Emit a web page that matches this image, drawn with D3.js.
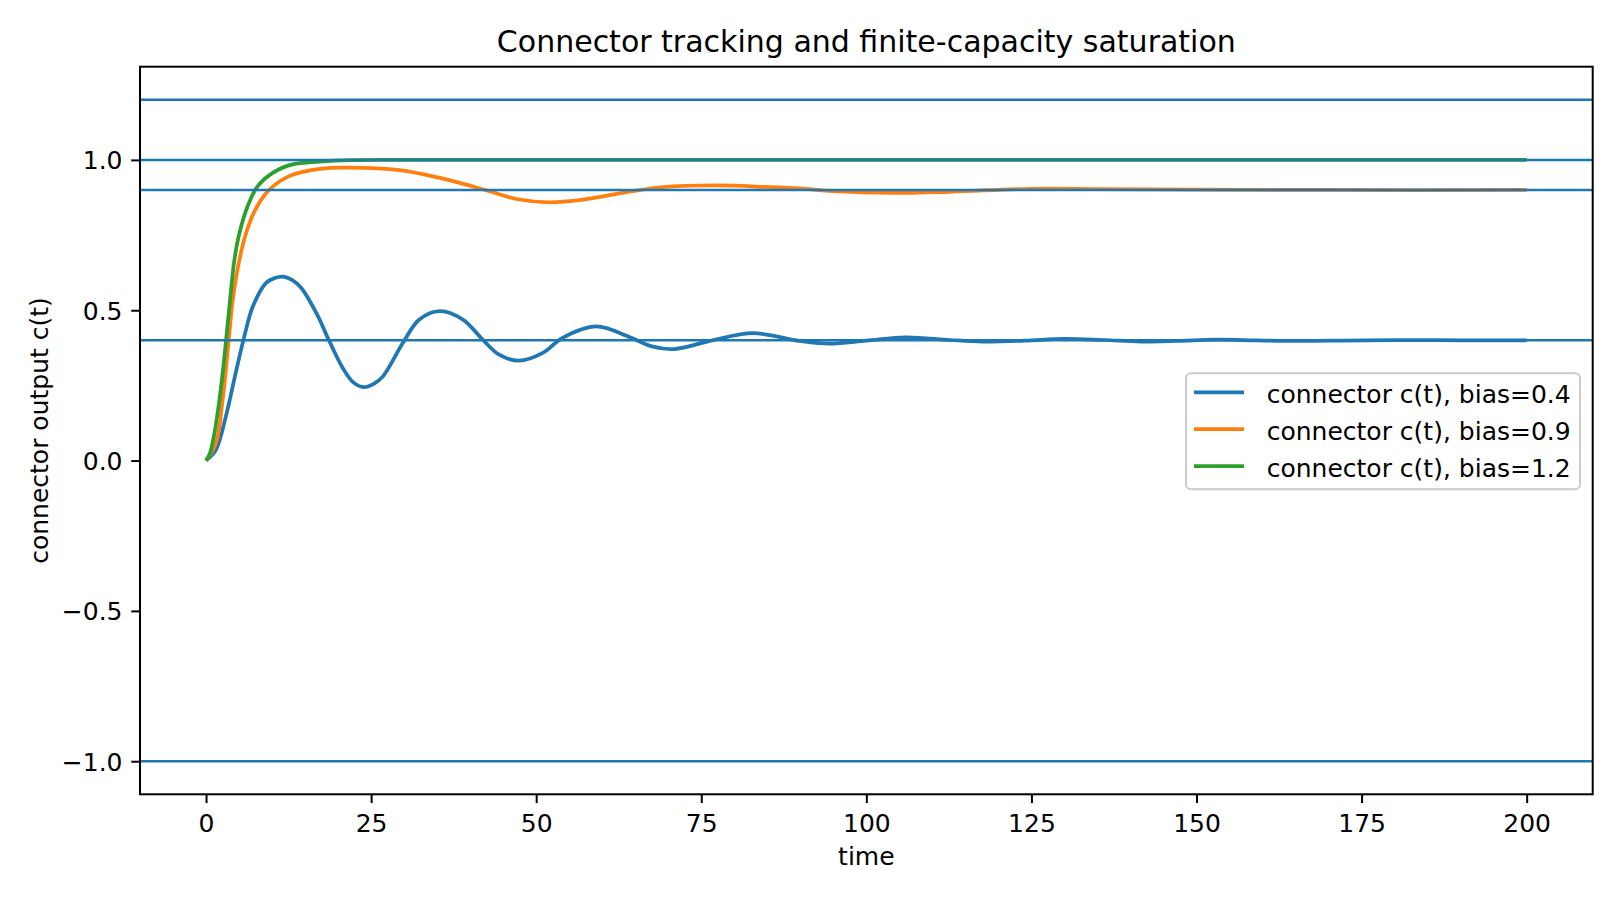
<!DOCTYPE html>
<html lang="en">

<head>
    <meta charset="UTF-8">
    <title>Connector tracking</title>
    <style>
        html, body {
            margin: 0;
            padding: 0;
            background: #fff;
        }

        text {
            font-family: "DejaVu Sans", sans-serif;
            fill: #000;
        }
    </style>
</head>

<body>
    <div id="wrapper"></div>

    <script src="https://d3js.org/d3.v7.min.js"></script>
    <script>
        // data
        const seriesLabels = ['connector c(t), bias=0.4', 'connector c(t), bias=0.9', 'connector c(t), bias=1.2'];
        const seriesColors = ['#1f77b4', '#ff7f0e', '#2ca02c'];

        const tBias04 = [0, 1.5, 3.0, 4.6, 5.8, 7.1, 9.1, 10.4, 11.7, 13.0, 14.4, 16.7, 18.7, 20.7, 22.3, 23.9, 25.4, 26.8, 29.8, 32.3, 35.4, 38.9, 41.9, 44.4, 47.4, 51.0, 54.0, 59.1, 64.1, 67.5, 70.9, 76.7, 82.8, 89.9, 94.4, 100, 106, 112.6, 117.6, 124, 130, 136, 141.6, 147, 153, 159, 165, 172, 180, 190, 200];
        const yBias04 = [0, 0.036, 0.147, 0.302, 0.413, 0.513, 0.591, 0.607, 0.612, 0.601, 0.575, 0.491, 0.396, 0.308, 0.260, 0.244, 0.255, 0.280, 0.391, 0.469, 0.497, 0.469, 0.402, 0.352, 0.332, 0.358, 0.408, 0.446, 0.411, 0.380, 0.371, 0.400, 0.424, 0.398, 0.389, 0.399, 0.410, 0.401, 0.396, 0.399, 0.405, 0.401, 0.396, 0.398, 0.402, 0.400, 0.398, 0.399, 0.401, 0.400, 0.400];

        const tBias09 = [0, 1.5, 2.5, 3.3, 4.05, 5.06, 6.07, 7.6, 9.6, 12.6, 17.2, 21.7, 29.3, 35.4, 42.9, 47.0, 52.0, 57.1, 64.6, 69.7, 77.3, 84.8, 89.9, 94.9, 104, 112.6, 125.2, 135.3, 150.5, 170, 200];
        const yBias09 = [0, 0.058, 0.200, 0.369, 0.535, 0.668, 0.757, 0.840, 0.901, 0.946, 0.970, 0.974, 0.966, 0.940, 0.896, 0.870, 0.859, 0.868, 0.896, 0.910, 0.915, 0.910, 0.905, 0.896, 0.890, 0.894, 0.904, 0.903, 0.901, 0.900, 0.900];

        const tBias12 = [0, 0.6, 1.27, 2.03, 2.79, 3.54, 4.3, 5.06, 6.3, 7.8, 10.1, 13.1, 17.2, 22, 30, 200];
        const yBias12 = [0, 0.025, 0.091, 0.202, 0.346, 0.513, 0.668, 0.757, 0.846, 0.912, 0.957, 0.985, 0.994, 0.999, 1.0, 1.0];

        // horizontal reference lines
        const hLevels = [1.2, 1.0, 0.9, 0.4, -1.0];

        const xTicks = [0, 25, 50, 75, 100, 125, 150, 175, 200];
        const yTicks = [-1.0, -0.5, 0.0, 0.5, 1.0];

        let width = 1620,
            height = 900;
        const plot = { left: 140, right: 1592.7, top: 66.7, bottom: 794.3 };

        const svg = d3.select('#wrapper').append('svg')
            .attr('width', width)
            .attr('height', height);

        const xScale = d3.scaleLinear().domain([-10, 210]).range([plot.left, plot.right]);
        const yScale = d3.scaleLinear().domain([-1.11, 1.31]).range([plot.bottom, plot.top]);

        svg.append('clipPath').attr('id', 'clip')
            .append('rect')
            .attr('x', plot.left).attr('y', plot.top)
            .attr('width', plot.right - plot.left).attr('height', plot.bottom - plot.top);

        // curves
        const series = [
            tBias04.map((t, i) => ({ t: t, v: yBias04[i] })),
            tBias09.map((t, i) => ({ t: t, v: yBias09[i] })),
            tBias12.map((t, i) => ({ t: t, v: yBias12[i] }))
        ];

        const line = d3.line()
            .x(d => xScale(d.t))
            .y(d => yScale(d.v))
            .curve(d3.curveCatmullRom.alpha(0.5));

        const g = svg.append('g').attr('clip-path', 'url(#clip)');
        series.forEach((s, i) => {
            g.append('path')
                .attr('d', line(s))
                .attr('fill', 'none')
                .attr('stroke', seriesColors[i])
                .attr('stroke-width', 3.75)
                .attr('stroke-linejoin', 'round')
                .attr('stroke-linecap', 'butt');
        });

        // axhlines drawn over the curves
        g.selectAll('.hline')
            .data(hLevels)
            .join('line')
            .attr('class', 'hline')
            .attr('x1', plot.left).attr('x2', plot.right)
            .attr('y1', d => yScale(d)).attr('y2', d => yScale(d))
            .attr('stroke', '#1f77b4')
            .attr('stroke-width', 2.5);

        // axes
        const xAxis = d3.axisBottom(xScale)
            .tickValues(xTicks)
            .tickSizeInner(8.75)
            .tickSizeOuter(0)
            .tickPadding(8.75)
            .tickFormat(d3.format('d'));

        const xAxisLine = svg.append('g')
            .attr('transform', `translate(0, ${plot.bottom})`)
            .call(xAxis);
        xAxisLine.select('.domain').remove();
        xAxisLine.selectAll('.tick line').attr('stroke', '#000').attr('stroke-width', 2);
        xAxisLine.selectAll('.tick text')
            .attr('font-size', 25)
            .attr('font-family', 'DejaVu Sans')
            .attr('fill', '#000')
            .attr('dy', null)
            .attr('y', 832.3 - plot.bottom);

        const yAxis = d3.axisLeft(yScale)
            .tickValues(yTicks)
            .tickSizeInner(8.75)
            .tickSizeOuter(0)
            .tickPadding(8.75)
            .tickFormat(d => d3.format('.1f')(d).replace('-', '\u2212'));

        const yAxisLine = svg.append('g')
            .attr('transform', `translate(${plot.left}, 0)`)
            .call(yAxis);
        yAxisLine.select('.domain').remove();
        yAxisLine.selectAll('.tick line').attr('stroke', '#000').attr('stroke-width', 2);
        yAxisLine.selectAll('.tick text')
            .attr('font-size', 25)
            .attr('font-family', 'DejaVu Sans')
            .attr('fill', '#000')
            .attr('dy', null)
            .attr('y', 9);

        // frame
        svg.append('rect')
            .attr('x', plot.left).attr('y', plot.top)
            .attr('width', plot.right - plot.left).attr('height', plot.bottom - plot.top)
            .attr('fill', 'none')
            .attr('stroke', '#000')
            .attr('stroke-width', 2);

        // title & labels
        svg.append('text')
            .attr('x', (plot.left + plot.right) / 2)
            .attr('y', 51.5)
            .attr('text-anchor', 'middle')
            .attr('font-size', 30)
            .text('Connector tracking and finite-capacity saturation');

        svg.append('text')
            .attr('x', (plot.left + plot.right) / 2)
            .attr('y', 865)
            .attr('text-anchor', 'middle')
            .attr('font-size', 25)
            .text('time');

        svg.append('text')
            .attr('transform', `translate(48, ${(plot.top + plot.bottom) / 2}) rotate(-90)`)
            .attr('text-anchor', 'middle')
            .attr('font-size', 25)
            .text('connector output c(t)');

        // legend
        const legend = svg.append('g');
        legend.append('rect')
            .attr('x', 1186).attr('y', 373.3)
            .attr('width', 1580 - 1186).attr('height', 489.3 - 373.3)
            .attr('rx', 5).attr('ry', 5)
            .attr('fill', 'rgba(255,255,255,0.8)')
            .attr('stroke', '#cccccc')
            .attr('stroke-width', 2);

        seriesLabels.forEach((lab, i) => {
            const ly = 392.3 + i * 36.85;
            legend.append('line')
                .attr('x1', 1194).attr('x2', 1244)
                .attr('y1', ly).attr('y2', ly)
                .attr('stroke', seriesColors[i])
                .attr('stroke-width', 3.75);
            legend.append('text')
                .attr('x', 1266.7)
                .attr('y', ly + 11)
                .attr('font-size', 25)
                .text(lab);
        });
    </script>
</body>

</html>
